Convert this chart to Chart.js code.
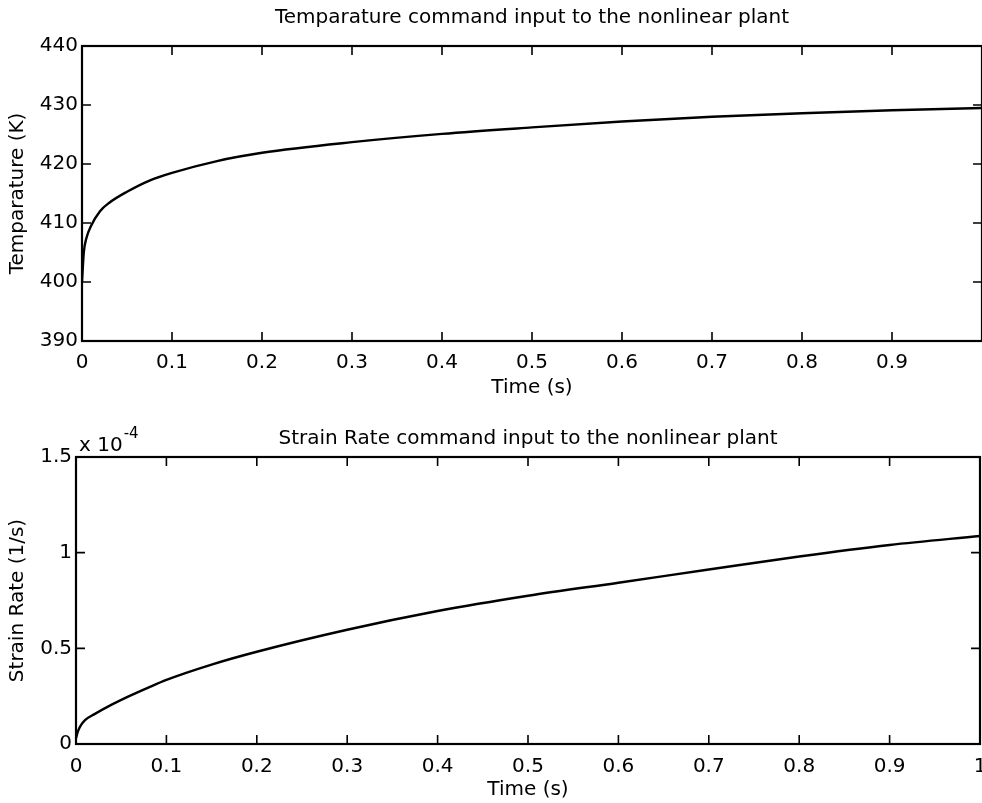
<!DOCTYPE html>
<html lang="en">
<head>
    <meta charset="UTF-8">
    <title>Command inputs to the nonlinear plant</title>
    <script src="https://cdn.jsdelivr.net/npm/chart.js"></script>
    <style>
        html, body {
            margin: 0;
            padding: 0;
            width: 982px;
            height: 803px;
            overflow: hidden;
            background: #fff;
        }
        .panel {
            position: absolute;
            left: 0;
        }
        #top { top: 0; }
        #bottom { top: 410px; }
    </style>
</head>
<body>
    <div class="panel" id="top"><canvas id="tempChart" width="984" height="410"></canvas></div>
    <div class="panel" id="bottom"><canvas id="strainChart" width="982" height="393"></canvas></div>
    <script>
        // temperature command (K) vs time (s)
        var timeTemp = [0, 0.002, 0.005, 0.01, 0.02, 0.03, 0.05, 0.075, 0.1, 0.15, 0.2, 0.3, 0.4, 0.5, 0.6, 0.7, 0.8, 0.9, 1.0];
        var temperature = [400, 405, 407.5, 409.5, 412, 413.4, 415.3, 417.2, 418.5, 420.5, 421.9, 423.7, 425.1, 426.2, 427.2, 428.0, 428.6, 429.1, 429.5];

        // strain rate command, in units of 1e-4 1/s
        var timeStrain = [0, 0.002, 0.005, 0.01, 0.02, 0.04, 0.06, 0.08, 0.1, 0.15, 0.2, 0.3, 0.4, 0.5, 0.6, 0.7, 0.8, 0.9, 1.0];
        var strainRate = [0.03, 0.065, 0.095, 0.125, 0.155, 0.207, 0.253, 0.295, 0.335, 0.415, 0.482, 0.597, 0.695, 0.775, 0.843, 0.912, 0.98, 1.04, 1.087];

        var timeTicks = [0, 0.1, 0.2, 0.3, 0.4, 0.5, 0.6, 0.7, 0.8, 0.9, 1];
        var tempTicks = [390, 400, 410, 420, 430, 440];
        var strainTicks = [0, 0.5, 1, 1.5];

        var FONT = 'DejaVu Sans';
        var INK = '#000';

        // matlab style box: frame around the plot area, ticks pointing inward on all sides
        var boxPlugin = {
            id: 'box',
            afterDraw: function(chart) {
                var ctx = chart.ctx;
                var a = chart.chartArea;
                var len = 9;
                ctx.save();
                ctx.strokeStyle = INK;
                ctx.lineWidth = 1.6;
                chart.scales.x.ticks.forEach(function(t) {
                    var px = chart.scales.x.getPixelForValue(t.value);
                    ctx.beginPath();
                    ctx.moveTo(px, a.bottom); ctx.lineTo(px, a.bottom - len);
                    ctx.moveTo(px, a.top); ctx.lineTo(px, a.top + len);
                    ctx.stroke();
                });
                chart.scales.y.ticks.forEach(function(t) {
                    var py = chart.scales.y.getPixelForValue(t.value);
                    ctx.beginPath();
                    ctx.moveTo(a.left, py); ctx.lineTo(a.left + len, py);
                    ctx.moveTo(a.right, py); ctx.lineTo(a.right - len, py);
                    ctx.stroke();
                });
                ctx.lineWidth = 2.2;
                ctx.strokeRect(a.left, a.top, a.right - a.left, a.bottom - a.top);

                var exp = chart.options.plugins.box.exponent;
                if (exp) {
                    ctx.fillStyle = INK;
                    ctx.textBaseline = 'alphabetic';
                    ctx.font = '20px ' + FONT;
                    ctx.fillText('x 10', a.left + 3, a.top - 6);
                    var w = ctx.measureText('x 10').width;
                    ctx.font = '15px ' + FONT;
                    ctx.fillText(exp, a.left + 4 + w, a.top - 19);
                }
                ctx.restore();
            }
        };

        function fixedTicks(values) {
            return function(scale) {
                scale.ticks = values.map(function(v) { return { value: v }; });
            };
        }

        function makeChart(id, opts) {
            var ctx = document.getElementById(id).getContext('2d');
            return new Chart(ctx, {
                type: 'line',
                data: {
                    datasets: [{
                        data: opts.xs.map(function(x, i) { return { x: x, y: opts.ys[i] }; }),
                        borderColor: INK,
                        borderWidth: 2.4,
                        pointRadius: 0,
                        cubicInterpolationMode: 'monotone',
                        fill: false
                    }]
                },
                options: {
                    responsive: false,
                    animation: false,
                    layout: { padding: { left: 0, right: opts.padRight, top: 0, bottom: 0 } },
                    plugins: {
                        legend: { display: false },
                        tooltip: { enabled: false },
                        title: {
                            display: true,
                            fullSize: false,
                            text: opts.title,
                            color: INK,
                            font: { family: FONT, size: 20, weight: 'normal', lineHeight: 1.2 },
                            padding: opts.titlePad
                        },
                        box: { exponent: opts.exponent }
                    },
                    scales: {
                        x: {
                            type: 'linear',
                            min: 0,
                            max: 1,
                            grid: { display: false, drawTicks: false },
                            border: { display: false },
                            afterBuildTicks: fixedTicks(timeTicks),
                            afterFit: function(s) {
                                s.height = opts.xHeight;
                                s.paddingLeft = 0;
                                s.paddingRight = 0;
                            },
                            ticks: {
                                color: INK,
                                maxRotation: 0,
                                padding: opts.xTickPad,
                                font: { family: FONT, size: 20 },
                                callback: opts.xLabel
                            },
                            title: {
                                display: true,
                                text: 'Time (s)',
                                color: INK,
                                font: { family: FONT, size: 20, lineHeight: 1.2 },
                                padding: { top: 0, bottom: opts.xTitleBottom }
                            }
                        },
                        y: {
                            min: opts.yMin,
                            max: opts.yMax,
                            grid: { display: false, drawTicks: false },
                            border: { display: false },
                            afterBuildTicks: fixedTicks(opts.yTicks),
                            afterFit: function(s) {
                                s.width = opts.yWidth;
                                s.paddingTop = 0;
                                s.paddingBottom = 0;
                            },
                            ticks: {
                                color: INK,
                                padding: 4,
                                font: { family: FONT, size: 20 },
                                callback: function(v) { return String(v); }
                            },
                            title: {
                                display: true,
                                text: opts.yTitle,
                                color: INK,
                                font: { family: FONT, size: 20, lineHeight: 1.2 },
                                padding: { top: 6, bottom: 0 }
                            }
                        }
                    }
                },
                plugins: [boxPlugin]
            });
        }

        makeChart('tempChart', {
            xs: timeTemp,
            ys: temperature,
            title: 'Temparature command input to the nonlinear plant',
            titlePad: { top: 6, bottom: 16 },
            yTitle: 'Temparature (K)',
            yMin: 390,
            yMax: 440,
            yTicks: tempTicks,
            yWidth: 82,
            xHeight: 69,
            xTickPad: 10,
            xTitleBottom: 10,
            padRight: 2,
            // the last time label falls past the page edge
            xLabel: function(v) { return v === 1 ? '' : String(v); }
        });

        makeChart('strainChart', {
            xs: timeStrain,
            ys: strainRate,
            title: 'Strain Rate command input to the nonlinear plant',
            titlePad: { top: 17, bottom: 6 },
            yTitle: 'Strain Rate (1/s)',
            yMin: 0,
            yMax: 1.5,
            yTicks: strainTicks,
            yWidth: 76,
            xHeight: 59,
            xTickPad: 11,
            xTitleBottom: 1,
            padRight: 2,
            exponent: '-4',
            xLabel: function(v) { return String(v); }
        });
    </script>
</body>
</html>
